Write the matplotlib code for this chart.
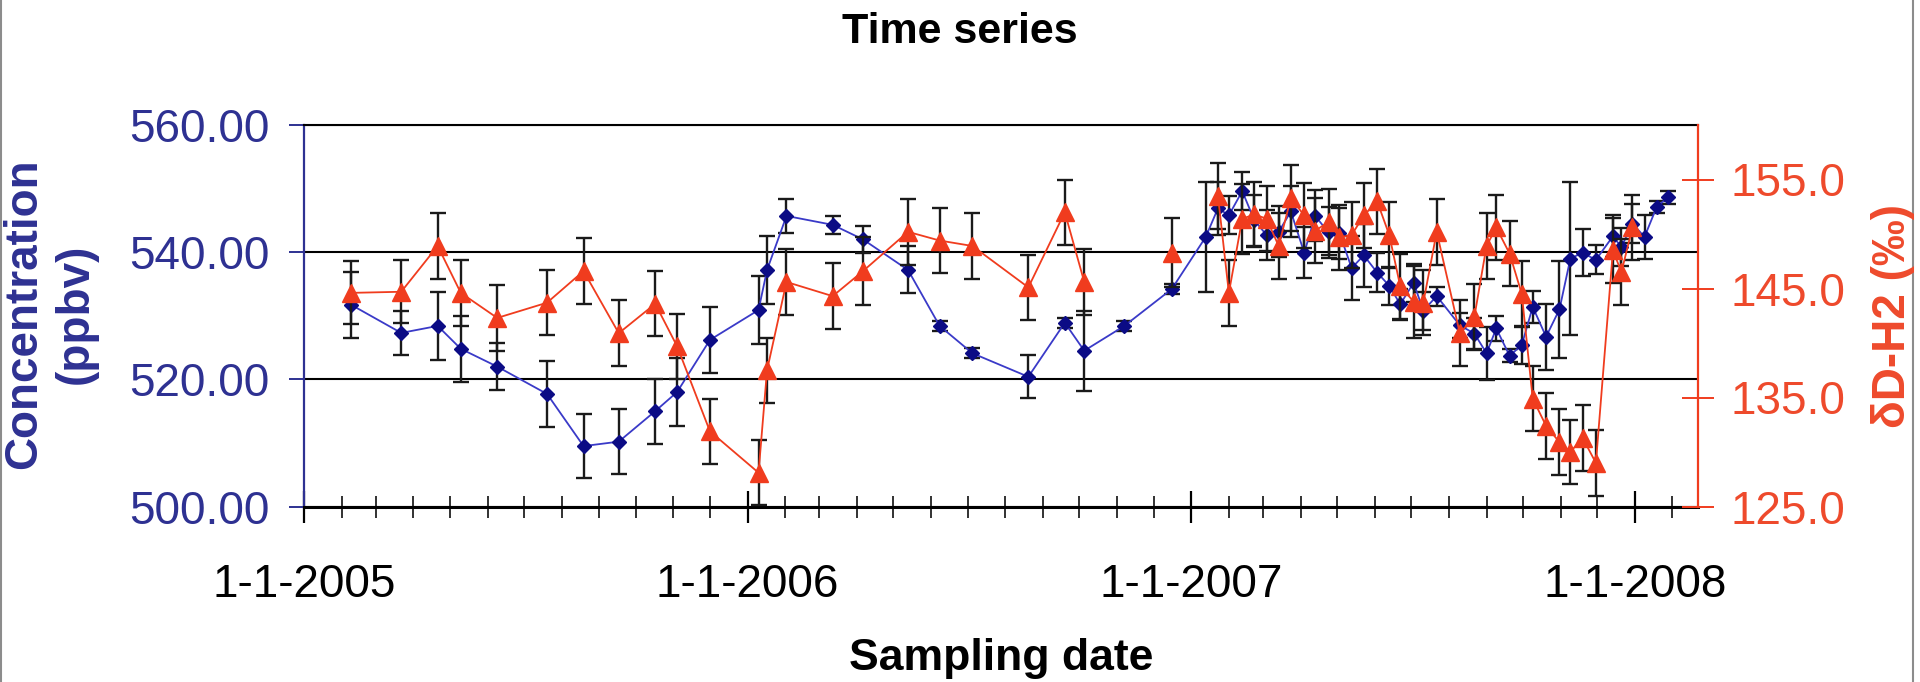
import matplotlib
matplotlib.use('Agg')
import matplotlib.pyplot as plt
import matplotlib.dates as mdates
from matplotlib.ticker import FormatStrFormatter, FuncFormatter
from matplotlib.lines import Line2D
import numpy as np
import pandas as pd

plt.rcParams['font.family'] = ['Liberation Sans', 'DejaVu Sans']

nan = np.nan

sample_dates = [
    '2005-02-09', '2005-03-22', '2005-04-21', '2005-05-10', '2005-06-09',
    '2005-07-20', '2005-08-19', '2005-09-17', '2005-10-17', '2005-11-04',
    '2005-12-01', '2006-01-10', '2006-01-17', '2006-02-02', '2006-03-12',
    '2006-04-06', '2006-05-13', '2006-06-08', '2006-07-05', '2006-08-20',
    '2006-09-19', '2006-10-05', '2006-11-07', '2006-12-16', '2007-01-13',
    '2007-01-23', '2007-02-01', '2007-02-12', '2007-02-22', '2007-03-04',
    '2007-03-14', '2007-03-24', '2007-04-04', '2007-04-13', '2007-04-24',
    '2007-05-03', '2007-05-13', '2007-05-23', '2007-06-03', '2007-06-13',
    '2007-06-22', '2007-07-03', '2007-07-11', '2007-07-22', '2007-08-10',
    '2007-08-22', '2007-09-01', '2007-09-09', '2007-09-20', '2007-09-30',
    '2007-10-09', '2007-10-20', '2007-10-31', '2007-11-09', '2007-11-19',
    '2007-11-30', '2007-12-14', '2007-12-21', '2007-12-30', '2008-01-09',
    '2008-01-19', '2008-01-28',
]

concentration = [
    531.7, 527.3, 528.4, 524.8, 522.0,
    517.7, 509.5, 510.2, 515.0, 518.0,
    526.2, 530.9, 537.2, 545.7, 544.3,
    542.0, 537.2, 528.4, 524.1, 520.4,
    528.9, 524.5, 528.4, 534.2, 542.4,
    546.9, 545.8, 549.6, 545.0, 542.7,
    543.2, 546.4, 539.9, 545.7, 543.1,
    543.0, 537.5, 539.5, 536.8, 534.7,
    531.8, 535.2, 530.8, 533.1, 528.5,
    527.2, 524.1, 528.0, 523.7, 525.4,
    531.4, 526.7, 531.0, 539.0, 539.9,
    538.8, 542.5, 540.8, 544.5, 542.4,
    547.1, 548.6,
]

concentration_err = [
    5.2, 3.4, 5.4, 5.2, 3.7,
    5.2, 5.0, 5.1, 5.1, 5.3,
    5.2, 5.3, 5.3, 2.7, 1.4,
    2.1, 3.7, 0.8, 0.8, 3.4,
    0.8, 6.3, 0.8, 0.8, 8.6,
    4.2, 3.0, 3.0, 4.0, 4.0,
    4.0, 4.0, 4.0, 4.0, 4.0,
    4.0, 5.0, 5.0, 3.0, 3.0,
    2.4, 3.0, 3.0, 1.5, 2.0,
    2.5, 4.2, 2.0, 1.0, 3.0,
    2.5, 5.2, 7.6, 12.0, 3.7,
    2.3, 3.3, 3.0, 3.0, 3.5,
    1.0, 1.0,
]

deltaD = [
    144.6, 144.7, 148.9, 144.6, 142.3,
    143.7, 146.6, 140.9, 143.6, 139.7,
    131.9, 128.1, 137.5, 145.6, 144.3,
    146.6, 150.2, 149.4, 148.9, 145.1,
    152.0, 145.6, nan, 148.3, nan,
    153.5, 144.6, 151.4, 151.8, 151.4,
    148.9, 153.3, 151.7, 150.3, 151.1,
    149.7, 149.9, 151.7, 153.0, 149.9,
    145.2, 143.8, 143.7, 150.2, 140.9,
    142.4, 148.9, 150.6, 148.2, 144.5,
    134.9, 132.4, 130.9, 130.0, 131.3,
    129.0, 148.5, 146.5, 150.6, nan,
    nan, nan,
]

deltaD_err = [
    2.9, 2.9, 3.0, 3.0, 3.0,
    3.0, 3.0, 3.0, 3.0, 3.0,
    3.0, 3.0, 3.0, 3.0, 3.0,
    3.1, 3.0, 3.0, 3.0, 3.0,
    3.0, 3.0, nan, 3.2, nan,
    3.0, 3.0, 3.2, 3.0, 3.0,
    3.0, 3.0, 3.0, 3.0, 3.0,
    3.0, 3.0, 3.0, 3.0, 3.0,
    3.0, 3.3, 3.0, 3.0, 3.0,
    3.0, 3.0, 3.0, 3.0, 3.0,
    3.0, 3.0, 3.0, 2.9, 3.0,
    3.0, 3.0, 3.0, 3.0, nan,
    nan, nan,
]

left_ticks = [500, 520, 540, 560]
right_ticks = [125, 135, 145, 155]

BLUE_TXT = '#2E3192'
BLUE_MK = '#0B0B85'
BLUE_LN = '#3A3AC8'
RED = '#F03C1E'
RED_TXT = '#EE4A2C'
FS_TICK = 33
FS_LAB = 33
FS_TITLE = 31

x = pd.to_datetime(sample_dates)

W, H = 1920, 682
fig = plt.figure(figsize=(W / 100, H / 100), dpi=100)
L, R, T, B = 304, 1698, 125, 506.5
ax = fig.add_axes([L / W, 1 - B / H, (R - L) / W, (B - T) / H])
ax2 = ax.twinx()

# concentration series (primary)
ax.errorbar(x, concentration, yerr=concentration_err, fmt='none', ecolor='#1a1a1a',
            elinewidth=1.7, capsize=6, capthick=1.7, zorder=3)
ax.plot(x, concentration, '-', color=BLUE_LN, lw=1.3, marker='D', ms=7,
        mfc=BLUE_MK, mec=BLUE_MK, zorder=4)

# deltaD series (secondary)
ax2.errorbar(x, deltaD, yerr=deltaD_err, fmt='none', ecolor='#1a1a1a',
             elinewidth=1.7, capsize=6, capthick=1.7, zorder=3)
ax2.plot(x, deltaD, '-', color=RED, lw=1.3, marker='^', ms=12.5,
         mfc=RED, mec=RED, zorder=4)

ax.set_xlim(pd.Timestamp('2005-01-01'), pd.Timestamp('2008-02-22'))
ax.set_ylim(500, 560)
ax.set_yticks(left_ticks)
ax.yaxis.set_major_formatter(FormatStrFormatter('%.2f'))
ax.xaxis.set_major_locator(mdates.YearLocator())
ax.xaxis.set_minor_locator(mdates.MonthLocator())


def fmt_date(v, pos=None):
    d = mdates.num2date(v)
    return f"{d.day}-{d.month}-{d.year}"


ax.xaxis.set_major_formatter(FuncFormatter(fmt_date))
ax.tick_params(axis='x', which='major', direction='inout', length=23, width=1.6,
               color='black', labelsize=FS_TICK, pad=29, labelcolor='black')
ax.tick_params(axis='x', which='minor', direction='inout', length=16.5, width=1.3,
               color='#222222')
ax.tick_params(axis='y', direction='out', length=11, width=1.4, color=BLUE_TXT,
               labelcolor=BLUE_TXT, labelsize=FS_TICK, pad=14)
ax.grid(axis='y', color='black', lw=1.5)

ax2.set_ylim(125, 160)
ax2.set_yticks(right_ticks)
ax2.yaxis.set_major_formatter(FormatStrFormatter('%.1f'))
ax2.tick_params(axis='y', direction='inout', length=23, width=1.4, color=RED,
                labelcolor=RED_TXT, labelsize=FS_TICK, pad=12)

ax.spines['right'].set_visible(False)
ax.spines['left'].set_color(BLUE_TXT)
ax.spines['left'].set_linewidth(1.6)
ax.spines['top'].set_color('black')
ax.spines['top'].set_linewidth(1.5)
ax.spines['bottom'].set_color('black')
ax.spines['bottom'].set_linewidth(2.2)
for s in ['left', 'top', 'bottom']:
    ax2.spines[s].set_visible(False)
ax2.spines['right'].set_color(RED)
ax2.spines['right'].set_linewidth(1.6)

fig.text(0.5, 1 - 43.3 / H, 'Time series', ha='center', va='baseline',
         fontsize=FS_TITLE, fontweight='bold')
fig.text(1001 / W, 1 - 670 / H, 'Sampling date', ha='center', va='baseline',
         fontsize=32, fontweight='bold')
fig.text(50 / W, 1 - 314 / H, 'Concentration\n(ppbv)', rotation=90, ha='center',
         va='center', multialignment='center', fontsize=FS_LAB, fontweight='bold',
         color=BLUE_TXT, linespacing=1.2)
fig.text(1893 / W, 1 - 316 / H, 'δD-H2 (‰)', rotation=90, ha='center', va='center',
         fontsize=FS_LAB, fontweight='bold', color=RED_TXT)

fig.add_artist(Line2D([1 / W, 1 / W], [0, 1], transform=fig.transFigure,
                      color='#8c8c8c', lw=1.5))
fig.add_artist(Line2D([1913 / W, 1913 / W], [0, 1], transform=fig.transFigure,
                      color='#8c8c8c', lw=1.5))

fig.savefig('out.png', dpi=100)
